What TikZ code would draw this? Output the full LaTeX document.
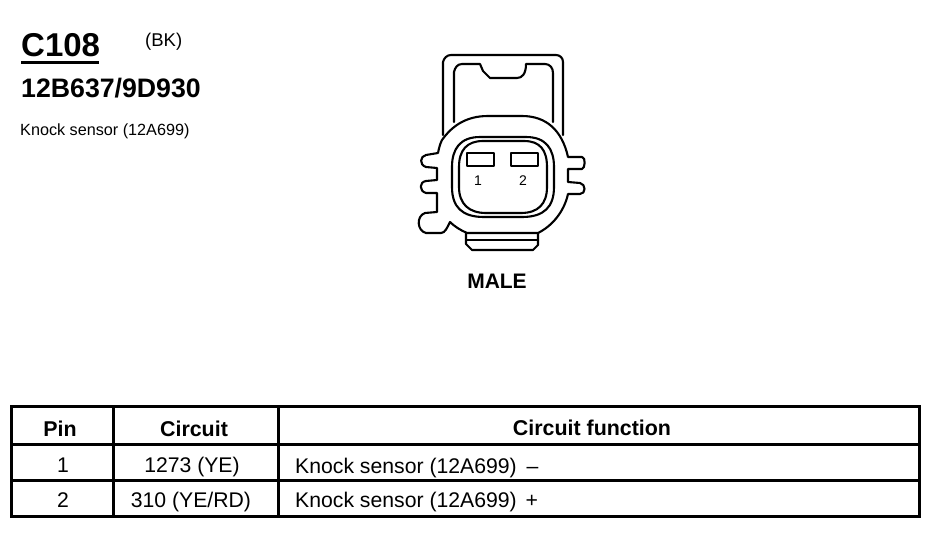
\documentclass[tikz,border=0pt]{standalone}
\usepackage{fontspec}
\setmainfont{Liberation Sans}
\newcommand{\fs}[1]{\fontsize{#1}{#1}\selectfont}
\tikzset{
  conn/.style={draw=black,line width=2.1pt,line join=round,line cap=round},
  rule/.style={draw=black,line width=3pt},
  txt/.style={inner sep=0pt,text=black},
  cell/.style={txt,font=\fs{21.2},anchor=base},
  head/.style={txt,font=\fs{21.4}\bfseries,anchor=base}
}
\begin{document}
\begin{tikzpicture}[x=1pt,y=-1pt]
\useasboundingbox[fill=white] (0,0) rectangle (932,544);
% titles
\node[txt,anchor=base west,font=\fs{33}\bfseries] (title) at (21,56) {C108};
\draw[draw=black,line width=2.2pt] (21,62.5) -- (99,62.5);
\node[txt,anchor=base west,font=\fs{18.5}] (color) at (145,46) {(BK)};
\node[txt,anchor=base west,font=\fs{26.7}\bfseries] (part) at (21,97) {12B637/9D930};
\node[txt,anchor=base west,font=\fs{16.2}] (desc) at (20,135) {Knock sensor (12A699)};
% connector: latch
\draw[conn] (443,135) -- (443,62) .. controls (444,58) and (447,55) .. (451,55) -- (556,55) .. controls (560,55) and (563,58) .. (563,62) -- (563,135);
\draw[conn] (454,122) -- (454,72) .. controls (455,68) and (457,64) .. (462,64) -- (480,64) -- (483,71) -- (490,78) -- (517,78) .. controls (522,78) and (526,74) .. (526,64) -- (526,64) -- (545,64) .. controls (550,64) and (553,68) .. (553,73) -- (553,122);
% connector: bottom key
\draw[conn] (466,232) -- (466,244) -- (472,250) -- (533,250) -- (538,245) -- (538,232);
\draw[conn] (467,240) -- (538,240);
% connector: body
\draw[conn,fill=white] (442,140)
  .. controls (452,126) and (466,116) .. (488,116) -- (522,116)
  .. controls (546,116) and (562,130) .. (568,157)
  -- (582,157) .. controls (586,157) and (585,169) .. (582,169) -- (568,169)
  -- (568,182) -- (580,183) .. controls (586,184) and (586,194) .. (580,194) -- (568,194)
  .. controls (564,212) and (552,226) .. (538,233)
  -- (467,233)
  .. controls (460,230) and (454,226) .. (450,222)
  .. controls (447,228) and (445,233) .. (441,233)
  -- (426,233) .. controls (417,231) and (416,216) .. (425,213)
  -- (437,212) -- (437,193) -- (426,193) .. controls (419,191) and (419,182) .. (426,181)
  -- (437,180) -- (437,168) -- (426,167) .. controls (419,165) and (420,156) .. (426,155)
  -- (438,153) .. controls (439,148) and (440,144) .. (442,140) -- cycle;
% connector: cavity
\draw[conn] (480,137) -- (526,137) .. controls (546,137) and (554,149) .. (554,167) -- (554,187) .. controls (554,207) and (544,217) .. (522,217) -- (484,217) .. controls (462,217) and (452,207) .. (452,187) -- (452,167) .. controls (452,149) and (460,137) .. (480,137) -- cycle;
\draw[conn] (483,141) -- (524,141) .. controls (540,141) and (547,150) .. (547,167) -- (547,187) .. controls (547,204) and (538,213) .. (521,213) -- (486,213) .. controls (469,213) and (459,204) .. (459,187) -- (459,167) .. controls (459,150) and (467,141) .. (483,141) -- cycle;
% pins
\draw[conn] (467,153) rectangle (494,166);
\draw[conn] (511,153) rectangle (538,166);
\node[txt,font=\fs{14}] (p1) at (478,181) {1};
\node[txt,font=\fs{14}] (p2) at (523,181) {2};
\node[txt,font=\fs{21}\bfseries] (male) at (497,281) {MALE};
% table
\draw[rule] (11.5,406) rectangle (919,516);
\draw[rule] (113,406) -- (113,516);
\draw[rule] (278.5,406) -- (278.5,516);
\draw[rule] (11.5,444) -- (919,444);
\draw[rule] (11.5,480) -- (919,480);
\node[head] (h1) at (60,436) {Pin};
\node[head] (h2) at (194,436) {Circuit};
\node[head] (h3) at (592,435) {Circuit function};
\node[cell] (a1) at (63,472) {1};
\node[cell] (a2) at (192,472) {1273 (YE)};
\node[cell,anchor=base west] (a3) at (295,473) {Knock sensor (12A699)\kern4pt{} –};
\node[cell] (b1) at (63,507) {2};
\node[cell] (b2) at (191,507) {310 (YE/RD)};
\node[cell,anchor=base west] (b3) at (295,507) {Knock sensor (12A699)\kern3pt{} +};
\end{tikzpicture}
\end{document}
